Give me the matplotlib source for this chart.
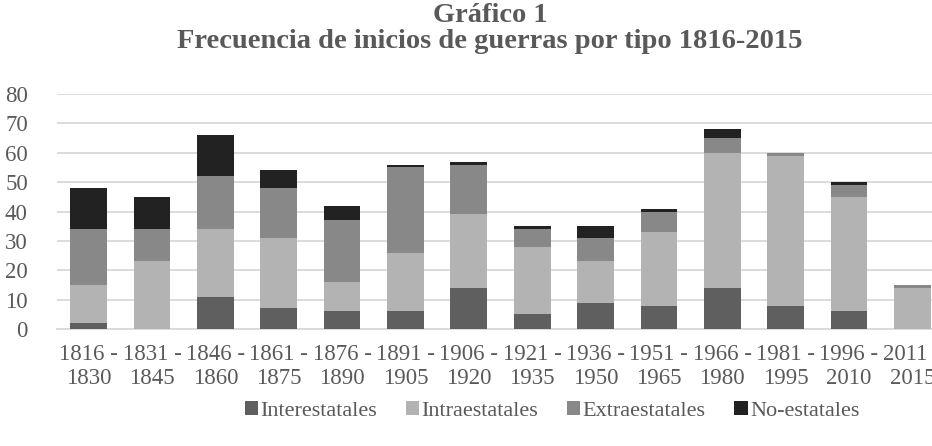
import matplotlib.pyplot as plt
import numpy as np

plt.rcParams['font.family'] = ['Liberation Serif', 'DejaVu Serif']

# Data
periods = ["1816 -\n1830", "1831 -\n1845", "1846 -\n1860", "1861 -\n1875", "1876 -\n1890",
           "1891 -\n1905", "1906 -\n1920", "1921 -\n1935", "1936 -\n1950", "1951 -\n1965",
           "1966 -\n1980", "1981 -\n1995", "1996 -\n2010", "2011 -\n2015"]
interestatales = [2, 0, 11, 7, 6, 6, 14, 5, 9, 8, 14, 8, 6, 0]
intraestatales = [13, 23, 23, 24, 10, 20, 25, 23, 14, 25, 46, 51, 39, 14]
extraestatales = [19, 11, 18, 17, 21, 29, 17, 6, 8, 7, 5, 1, 4, 1]
no_estatales = [14, 11, 14, 6, 5, 1, 1, 1, 4, 1, 3, 0, 1, 0]

series = [
    ("Interestatales", interestatales, "#5f5f5f"),
    ("Intraestatales", intraestatales, "#b3b3b3"),
    ("Extraestatales", extraestatales, "#888888"),
    ("No-estatales", no_estatales, "#222222"),
]

W, H = 932, 446
fig = plt.figure(figsize=(W / 100, H / 100), dpi=100)
# plot area runs past the right edge, as in the original
ax = fig.add_axes([57 / W, (H - 329) / H, 887 / W, 235 / H])

x = np.arange(len(periods))
bottom = np.zeros(len(periods))
for name, vals, col in series:
    ax.bar(x, vals, width=0.58, bottom=bottom, color=col, label=name, zorder=3)
    bottom += np.array(vals)

ax.set_xlim(-0.5, len(periods) - 0.5)
ax.set_ylim(0, 80)
ax.set_yticks(range(0, 81, 10))
ax.yaxis.grid(True, color="#d9d9d9", lw=1.3, zorder=0)
ax.set_xticks(x)
ax.set_xticklabels(periods, linespacing=1.15)
ax.tick_params(length=0, labelsize=16.5, colors="#595959")
ax.tick_params(axis="x", pad=11)
ax.tick_params(axis="y", pad=21)
for s in ["top", "right", "left"]:
    ax.spines[s].set_visible(False)
ax.spines["bottom"].set_color("#d9d9d9")
ax.spines["bottom"].set_linewidth(1.3)

fig.text(490 / W, 1 - 15 / H, "Gráfico 1", ha="center", va="center",
         fontsize=20.5, fontweight="bold", color="#595959")
fig.text(490 / W, 1 - 41 / H, "Frecuencia de inicios de guerras por tipo 1816-2015",
         ha="center", va="center", fontsize=20.5, fontweight="bold", color="#595959")

leg = fig.legend(loc="center", bbox_to_anchor=(552 / W, 1 - 411 / H), ncol=4,
                 frameon=False, fontsize=16, handlelength=0.6, handleheight=0.6,
                 handletextpad=0.1, columnspacing=1.3)
for t in leg.get_texts():
    t.set_color("#595959")

fig.savefig("out.png", dpi=100)
